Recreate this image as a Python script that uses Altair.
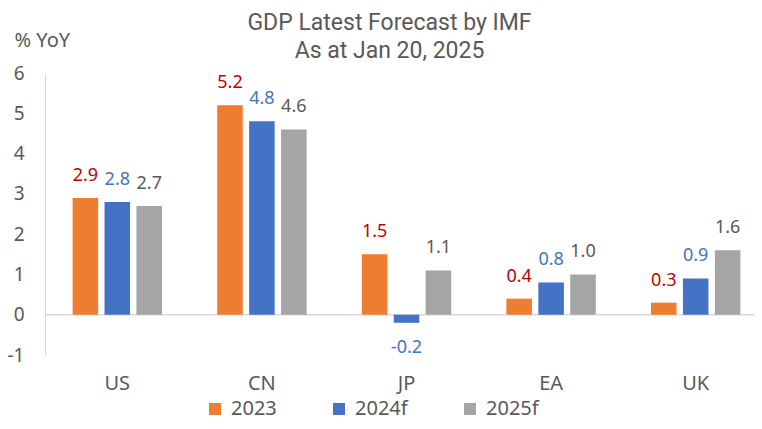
import altair as alt
import pandas as pd

countries = ["US", "CN", "JP", "EA", "UK"]
series = ["2023", "2024f", "2025f"]
v2023 = [2.9, 5.2, 1.5, 0.4, 0.3]
v2024 = [2.8, 4.8, -0.2, 0.8, 0.9]
v2025 = [2.7, 4.6, 1.1, 1.0, 1.6]
bar_colors = ["#ED7D31", "#4472C4", "#A5A5A5"]
label_colors = ["#C00000", "#4472C4", "#595959"]
y_ticks = [-1, 0, 1, 2, 3, 4, 5, 6]

rows = []
for s, vals, lc in zip(series, [v2023, v2024, v2025], label_colors):
    for c, v in zip(countries, vals):
        rows.append({"country": c, "series": s, "value": v, "lcolor": lc,
                     "label": f"{v:.1f}"})
df = pd.DataFrame(rows)

FONT = "Noto Sans"
TFONT = "Roboto"
GREY = "#595959"

x_enc = alt.X(
    "country:N", sort=countries,
    scale=alt.Scale(range=[0, 723], paddingInner=0.382, paddingOuter=0.191),
    axis=alt.Axis(title=None, domain=False, ticks=False, labelAngle=0,
                  labelFontSize=20, labelColor=GREY, labelFont=FONT, labelPadding=18),
)
xo_enc = alt.XOffset("series:N", sort=series,
                     scale=alt.Scale(paddingInner=0.2, paddingOuter=0))
y_enc = alt.Y(
    "value:Q",
    scale=alt.Scale(domain=[-1, 6], nice=False),
    axis=alt.Axis(values=y_ticks, grid=False, ticks=False, domainColor="#D9D9D9",
                  labelExpr="toString(datum.value)",
                  labelFontSize=19, labelColor=GREY, labelFont=FONT, labelPadding=21,
                  title="% YoY", titleAngle=0, titleX=-31, titleY=-33,
                  titleAlign="left", titleBaseline="middle", titleFontSize=20,
                  titleFontWeight="normal", titleColor=GREY, titleFont=FONT),
)

base = alt.Chart(df)

bars = base.mark_bar().encode(
    x=x_enc, xOffset=xo_enc, y=y_enc,
    color=alt.Color("series:N", sort=series,
                    scale=alt.Scale(domain=series, range=bar_colors),
                    legend=alt.Legend(title=None, orient="none", legendX=160, legendY=326,
                                      direction="horizontal", symbolType="square",
                                      symbolSize=144, symbolStrokeWidth=0,
                                      labelFontSize=20, labelColor=GREY, labelFont=FONT,
                                      labelOffset=6, columnPadding=52)),
)

zero = alt.Chart(pd.DataFrame({"z": [0]})).mark_rule(color="#D9D9D9", strokeWidth=1.5).encode(
    y=alt.Y("z:Q"), x=alt.value(0), x2=alt.value(723)
)

pos = base.transform_filter("datum.value >= 0").mark_text(
    baseline="bottom", dy=-13, fontSize=18, font=FONT
).encode(
    x=x_enc, xOffset=xo_enc, y=y_enc,
    text=alt.Text("label:N"),
    color=alt.Color("lcolor:N", scale=None),
)
neg = base.transform_filter("datum.value < 0").mark_text(
    baseline="top", dy=16, fontSize=18, font=FONT
).encode(
    x=x_enc, xOffset=xo_enc, y=y_enc,
    text=alt.Text("label:N"),
    color=alt.Color("lcolor:N", scale=None),
)

chart = alt.layer(zero, bars, pos, neg).properties(
    width=709, height=282,
    autosize=alt.AutoSizeParams(type="none"),
    padding={"left": 37, "top": 65, "right": 0, "bottom": 66},
    title=alt.Title("GDP Latest Forecast by IMF", subtitle="As at Jan 20, 2025",
                    fontSize=23, font=TFONT, color=GREY, fontWeight="normal",
                    subtitleFontSize=23, subtitleFont=TFONT, subtitleColor=GREY,
                    subtitleFontWeight="normal", subtitlePadding=5,
                    anchor="middle", frame="group", dx=-10, offset=-33),
).configure_view(stroke=None)

chart.save("out.html", embed_options={"renderer": "svg", "actions": False})
